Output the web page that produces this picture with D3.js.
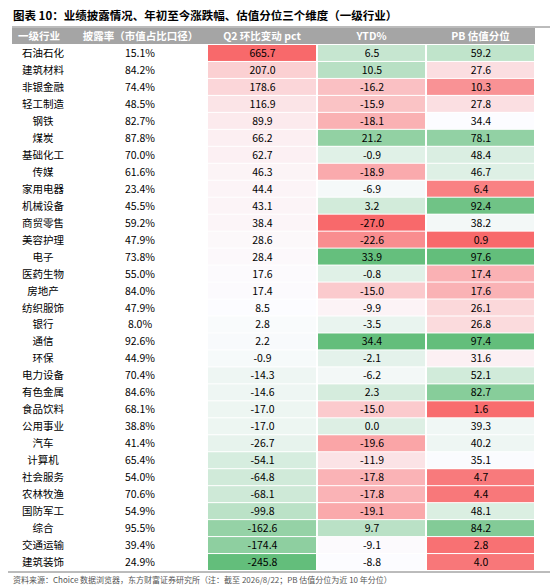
<!DOCTYPE html>
<html><head><meta charset="utf-8">
<script src="https://cdn.jsdelivr.net/npm/d3@7"></script>
<style>body{margin:0;background:#fff}</style>
</head><body><div id="chart"></div>
<script>
const industries = ["石油石化","建筑材料","非银金融","轻工制造","钢铁","煤炭","基础化工","传媒","家用电器","机械设备","商贸零售","美容护理","电子","医药生物","房地产","纺织服饰","银行","通信","环保","电力设备","有色金属","食品饮料","公用事业","汽车","计算机","社会服务","农林牧渔","国防军工","综合","交通运输","建筑装饰"];
const discloseRate = [15.1,84.2,74.4,48.5,82.7,87.8,70.0,61.6,23.4,45.5,59.2,47.9,73.8,55.0,84.0,47.9,8.0,92.6,44.9,70.4,84.6,68.1,38.8,41.4,65.4,54.0,70.6,54.9,95.5,39.4,24.9];
const q2Change = [665.7,207.0,178.6,116.9,89.9,66.2,62.7,46.3,44.4,43.1,38.4,28.6,28.4,17.6,17.4,8.5,2.8,2.2,-0.9,-14.3,-14.6,-17.0,-17.0,-26.7,-54.1,-64.8,-68.1,-99.8,-162.6,-174.4,-245.8];
const ytd = [6.5,10.5,-16.2,-15.9,-18.1,21.2,-0.9,-18.9,-6.9,3.2,-27.0,-22.6,33.9,-0.8,-15.0,-9.9,-3.5,34.4,-2.1,-6.2,2.3,-15.0,0.0,-19.6,-11.9,-17.8,-17.8,-19.1,9.7,-9.1,-8.8];
const pbPct = [59.2,27.6,10.3,27.8,34.4,78.1,48.4,46.7,6.4,92.4,38.2,0.9,97.6,17.4,17.6,26.1,26.8,97.4,31.6,52.1,82.7,1.6,39.3,40.2,35.1,4.7,4.4,48.1,84.2,2.8,4.0];
const headers = ["一级行业","披露率（市值占比口径）","Q2 环比变动 pct","YTD%","PB 估值分位"];

const W = 550, H = 587;
const svg = d3.select("#chart").append("svg").attr("width", W).attr("height", H)
  .style("font-family", "'Noto Sans CJK SC', sans-serif");

const red = "#f8696b", white = "#fcfcff", green = "#63be7b";
function scale3(vals, lowColor, highColor) {
  return d3.scaleLinear().domain([d3.min(vals), d3.median(vals), d3.max(vals)])
    .range([lowColor, white, highColor]);
}
const cq2 = scale3(q2Change, green, red);
const cytd = scale3(ytd, red, green);
const cpb = scale3(pbPct, red, green);

const colX = [12, 74, 207, 317, 426, 535];
const y = d3.scaleBand().domain(d3.range(industries.length)).range([45, 570]).paddingInner(0.06);

svg.append("text").attr("x", 13).attr("y", 20).style("font-size", "11.5px").style("font-weight", "bold")
  .text("图表 10：业绩披露情况、年初至今涨跌幅、估值分位三个维度（一级行业）");
svg.append("line").attr("x1", 12).attr("x2", 550).attr("y1", 27).attr("y2", 27).attr("stroke", "#555").attr("stroke-width", 0.8);

svg.append("rect").attr("x", 12).attr("y", 28).attr("width", 523).attr("height", 16).attr("fill", "#a5a5a5");
headers.forEach((h, i) => {
  svg.append("text").attr("x", (colX[i] + colX[i + 1]) / 2 + (i === 0 ? -4 : 0)).attr("y", 40)
    .attr("text-anchor", "middle").attr("fill", "#fff").style("font-size", "10.5px").style("font-weight", "bold").text(h);
});

const cols = [
  { vals: q2Change, c: cq2, fmt: d3.format(".1f") },
  { vals: ytd, c: cytd, fmt: d3.format(".1f") },
  { vals: pbPct, c: cpb, fmt: d3.format(".1f") }
];

industries.forEach((name, r) => {
  const yy = y(r), hh = y.bandwidth(), mid = yy + hh / 2 + 4;
  svg.append("text").attr("x", 43).attr("y", mid).attr("text-anchor", "middle").style("font-size", "10.5px").text(name);
  svg.append("text").attr("x", 140).attr("y", mid).attr("text-anchor", "middle").style("font-size", "10.5px")
    .text(discloseRate[r].toFixed(1) + "%");
  cols.forEach((col, k) => {
    const x0 = colX[k + 2] + 1, x1 = colX[k + 3];
    svg.append("rect").attr("x", x0).attr("y", yy).attr("width", x1 - x0 - 1).attr("height", hh).attr("fill", col.c(col.vals[r]));
    svg.append("text").attr("x", (x0 + x1) / 2).attr("y", mid).attr("text-anchor", "middle").style("font-size", "10.5px")
      .text(col.fmt(col.vals[r]).replace("−", "-"));
  });
});

svg.append("line").attr("x1", 8).attr("x2", 550).attr("y1", 572).attr("y2", 572).attr("stroke", "#555").attr("stroke-width", 0.8);
svg.append("text").attr("x", 13).attr("y", 583).attr("fill", "#555").style("font-size", "8px")
  .text("资料来源：Choice 数据浏览器，东方财富证券研究所（注：截至 2026/8/22；PB 估值分位为近 10 年分位）");
</script></body></html>
